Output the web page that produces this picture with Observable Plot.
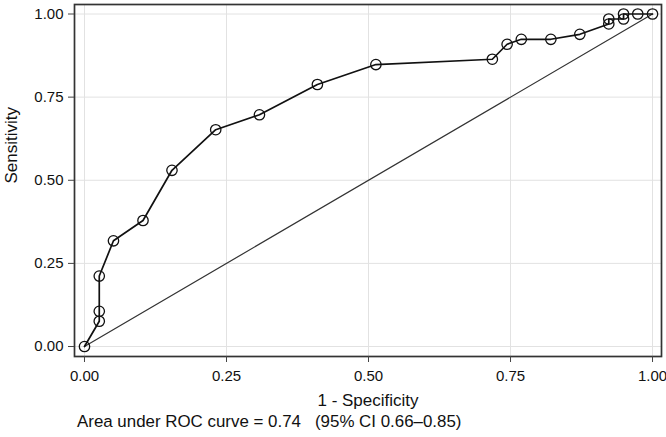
<!DOCTYPE html>
<html>
<head>
<meta charset="utf-8">
<script src="https://cdn.jsdelivr.net/npm/d3@7"></script>
<script src="https://cdn.jsdelivr.net/npm/@observablehq/plot@0.6"></script>
<style>
  html, body { margin: 0; padding: 0; background: #fff; }
  #chart svg { display: block; }
  #caption { font-family: "Liberation Sans", Arial, sans-serif; font-size: 16.9px; color: #111; margin-left: 77px; margin-top: 0px; line-height: 20px; white-space: pre; }
</style>
</head>
<body>
<div id="chart"></div>
<div id="caption"></div>
<script>
// 1 - Specificity (false positive rate)
const fpr = [0, 0.026, 0.026, 0.026, 0.051, 0.103, 0.154, 0.231, 0.308, 0.410, 0.513, 0.718, 0.744, 0.769, 0.821, 0.872, 0.923, 0.923, 0.949, 0.949, 0.974, 1];
// Sensitivity (true positive rate)
const tpr = [0, 0.076, 0.106, 0.212, 0.318, 0.379, 0.530, 0.652, 0.697, 0.788, 0.848, 0.864, 0.909, 0.924, 0.924, 0.939, 0.970, 0.985, 0.985, 1, 1, 1];
// reference diagonal
const diagX = [0, 1];
const diagY = [0, 1];
const ticks = [0, 0.25, 0.5, 0.75, 1];
const xLabel = "1 - Specificity";
const yLabel = "Sensitivity";
const captionText = "Area under ROC curve = 0.74   (95% CI 0.66\u20130.85)";

const roc = fpr.map((x, i) => ({x, y: tpr[i]}));
const diag = diagX.map((x, i) => ({x, y: diagY[i]}));
const fmt = d => d.toFixed(2);

const chart = Plot.plot({
  width: 666,
  height: 412,
  marginLeft: 74,
  marginRight: 5,
  marginTop: 4,
  marginBottom: 56,
  style: {fontFamily: "Liberation Sans, Arial, sans-serif", fontSize: "15px", color: "#111", background: "#fff"},
  x: {domain: [-0.0176, 1.0158]},
  y: {domain: [-0.030, 1.0286]},
  marks: [
    Plot.gridX(ticks, {stroke: "#e2e2e2", strokeOpacity: 1, strokeWidth: 1}),
    Plot.gridY(ticks, {stroke: "#e2e2e2", strokeOpacity: 1, strokeWidth: 1}),
    Plot.line(diag, {x: "x", y: "y", stroke: "#333", strokeWidth: 1.2}),
    Plot.line(roc, {x: "x", y: "y", stroke: "#111", strokeWidth: 1.7}),
    Plot.dot(roc, {x: "x", y: "y", r: 5.2, stroke: "#111", strokeWidth: 1.3, fill: "none"}),
    Plot.frame({stroke: "#333", strokeWidth: 1.7}),
    Plot.axisX(ticks, {tickFormat: fmt, tickSize: 6, tickPadding: 8, label: null, fontSize: 15, stroke: "#444"}),
    Plot.axisY(ticks, {tickFormat: fmt, tickSize: 6, tickPadding: 5, label: null, fontSize: 15, stroke: "#444"}),
    Plot.text([xLabel], {frameAnchor: "bottom", dy: 49, fontSize: 17, fill: "#111"}),
    Plot.text([yLabel], {frameAnchor: "left", dx: -63, dy: 3, rotate: -90, fontSize: 17, fill: "#111"})
  ]
});
document.getElementById("chart").appendChild(chart);
document.getElementById("caption").textContent = captionText;
</script>
</body>
</html>
